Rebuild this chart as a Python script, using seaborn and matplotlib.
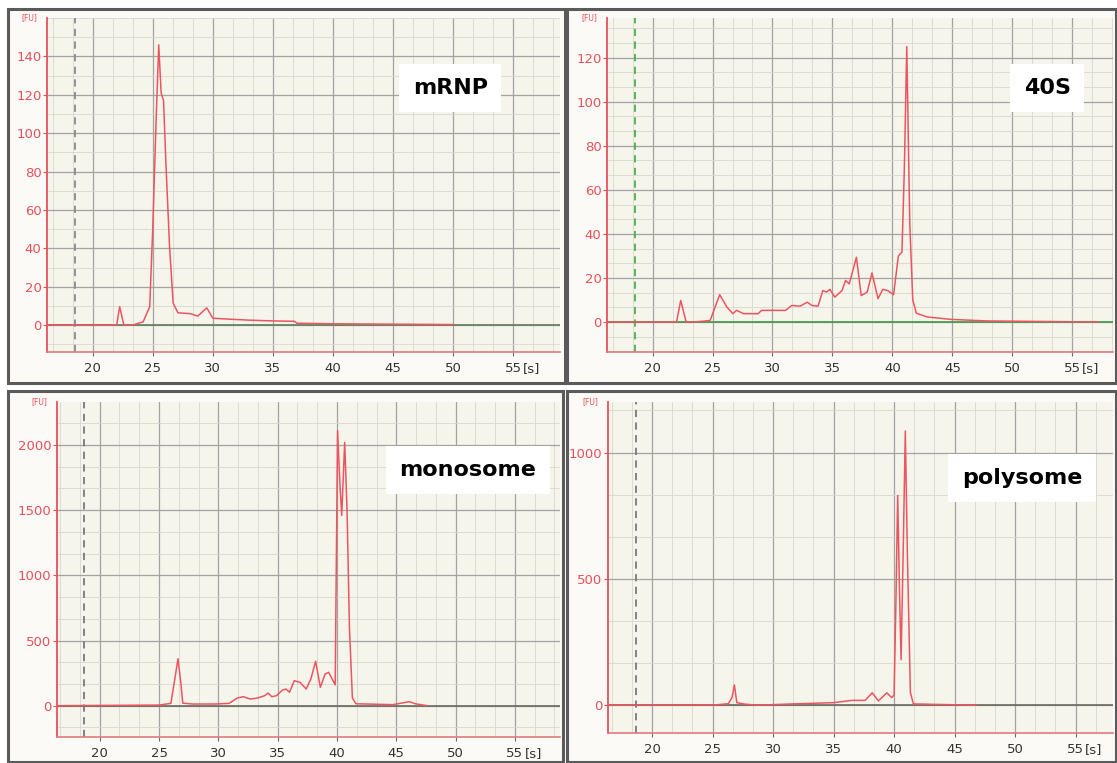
import numpy as np
import pandas as pd
import matplotlib
matplotlib.use("Agg")
import matplotlib.pyplot as plt
from matplotlib.patches import Rectangle
from matplotlib.ticker import MultipleLocator
import seaborn as sns

# electropherogram traces (time [s], fluorescence [FU])
t_mrnp = [16.2, 22.0, 22.25, 22.6, 23.3, 24.2, 24.75, 25.0, 25.3, 25.5, 25.7, 25.9, 26.1,
          26.4, 26.7, 27.1, 28.1, 28.75, 29.5, 30.0, 31.4, 33.0, 35.0, 36.8, 37.0, 40.0,
          45.0, 50.0]
v_mrnp = [0, 0, 9.6, 0, 0, 1.7, 9.6, 50, 110, 146, 121, 117, 84,
          41, 11.5, 6.4, 6, 4.7, 9, 3.6, 3.1, 2.6, 2.2, 2.0, 1.0, 0.7,
          0.5, 0.3]

t_40s = [16.2, 22.0, 22.35, 22.8, 23.5, 24.8, 25.6, 26.2, 26.7, 27.0, 27.6, 28.8, 29.1,
         30.3, 31.1, 31.6, 32.3, 32.9, 33.3, 33.8, 34.2, 34.5, 34.8, 35.2, 35.8, 36.1,
         36.4, 37.0, 37.4, 37.9, 38.3, 38.8, 39.2, 39.6, 40.1, 40.5, 40.8, 41.0, 41.2,
         41.45, 41.7, 42.0, 42.9, 44.9, 47.9, 57.2]
v_40s = [0, 0, 9.8, 0, 0, 0.7, 12.4, 6.8, 3.8, 5.3, 3.8, 3.8, 5.3,
         5.3, 5.3, 7.5, 7.2, 9, 7.5, 7.2, 14.3, 13.6, 14.8, 11.3, 14.3, 18.9,
         17.3, 29.4, 12, 13.6, 22.3, 10.6, 14.8, 14.3, 12.4, 30, 31.7, 70, 125,
         45, 10, 4, 2.3, 1.2, 0.5, 0]

t_mono = [16.4, 25.0, 26.0, 26.4, 26.6, 26.85, 27.0, 27.8, 29.7, 30.9, 31.6, 32.1, 32.7,
          33.3, 33.9, 34.2, 34.5, 34.9, 35.4, 35.7, 36.0, 36.4, 36.9, 37.4, 37.8, 38.2,
          38.6, 39.0, 39.3, 39.85, 40.05, 40.25, 40.4, 40.65, 40.85, 41.05, 41.3, 41.6,
          44.7, 46.1, 46.6, 47.6]
v_mono = [0, 5, 18, 244, 360, 167, 20, 13, 13, 18, 59, 69, 51,
          59, 77, 97, 69, 77, 120, 128, 103, 192, 179, 128, 205, 341,
          141, 244, 256, 160, 2110, 1700, 1460, 2020, 1500, 600, 60, 15,
          8, 31, 15, 0]

t_poly = [16.35, 25.2, 26.3, 26.6, 26.8, 27.0, 27.7, 28.75, 31.5, 35.0, 36.5, 37.6, 38.2,
          38.7, 39.4, 39.8, 40.0, 40.15, 40.3, 40.45, 40.58, 40.75, 40.93, 41.1, 41.35,
          41.6, 46.8]
v_poly = [0, 1, 6, 30, 80, 10, 4, 0, 5, 10, 19, 19, 49,
          17, 49, 30, 40, 400, 830, 450, 180, 600, 1085, 600, 50,
          5, 0]

labels = ["mRNP", "40S", "monosome", "polysome"]
x_ticks = [20, 25, 30, 35, 40, 45, 50, 55]
y_ticks = [[0, 20, 40, 60, 80, 100, 120, 140],
           [0, 20, 40, 60, 80, 100, 120],
           [0, 500, 1000, 1500, 2000],
           [0, 500, 1000]]

sns.set_style("white")
plt.rcParams["font.family"] = ["DejaVu Sans"]

W, H = 1117, 763
RED = "#e8505a"
TRACE = "#ec5560"

fig = plt.figure(figsize=(W / 100, H / 100), dpi=100)

# panel frames in pixels: x0, y0, x1, y1 (from top)
frames = [(8, 9, 565, 383), (567, 9, 1116, 383), (8, 391, 563, 762), (567, 391, 1116, 762)]
for x0, y0, x1, y1 in frames:
    fig.patches.append(Rectangle((x0 / W, 1 - y1 / H), (x1 - x0) / W, (y1 - y0) / H,
                                 transform=fig.transFigure, facecolor="#fbfaf6",
                                 edgecolor="#5a5a5a", lw=2.2, zorder=-1))

# axes boxes in pixels: left, top, right, bottom
boxes = [(47, 18, 560, 352), (607, 18, 1113, 352), (57, 402, 560, 737), (608, 402, 1113, 733)]
xlims = [(16.2, 58.9), (16.2, 58.4), (16.4, 58.8), (16.35, 58.1)]
ylims = [(-14, 160), (-13.6, 138), (-240, 2330), (-110, 1200)]
y_minor = [10, 20 / 3, 500 / 3, 500 / 3]
dash_x = [18.5, 18.5, 18.7, 18.7]
dash_col = ["#8a8a8a", "#4caf50", "#7a7a7a", "#7a7a7a"]
base_col = ["#5d7f5d", "#3f9a45", "#6a6a62", "#6a6a62"]
label_pos = [(0.786, 0.79), (0.87, 0.79), (0.817, 0.797), (0.82, 0.77)]
traces = [(t_mrnp, v_mrnp), (t_40s, v_40s), (t_mono, v_mono), (t_poly, v_poly)]

for i, (l, t, r, b) in enumerate(boxes):
    ax = fig.add_axes([l / W, 1 - b / H, (r - l) / W, (b - t) / H])
    ax.set_facecolor("#f6f5ec")

    ax.set_xlim(*xlims[i])
    ax.set_ylim(*ylims[i])
    ax.set_xticks(x_ticks)
    ax.set_yticks(y_ticks[i])
    ax.xaxis.set_minor_locator(MultipleLocator(5 / 3))
    ax.yaxis.set_minor_locator(MultipleLocator(y_minor[i]))
    ax.grid(which="major", color="#a3a3a0", lw=0.9)
    ax.grid(which="minor", color="#d8d8d0", lw=0.6)
    ax.set_axisbelow(True)

    ax.axvline(dash_x[i], color=dash_col[i], ls=(0, (4, 3)), lw=1.3, zorder=2)
    ax.axhline(0, color=base_col[i], lw=1.2, zorder=2)

    t_vals, v_vals = traces[i]
    df = pd.DataFrame({"time": t_vals, "fu": v_vals})
    sns.lineplot(data=df, x="time", y="fu", ax=ax, estimator=None, sort=False,
                 color=TRACE, lw=1.1, zorder=3)
    ax.set_xlabel("")
    ax.set_ylabel("")

    for side in ["top", "right"]:
        ax.spines[side].set_visible(False)
    ax.spines["left"].set_color(RED)
    ax.spines["left"].set_linewidth(1.3)
    ax.spines["bottom"].set_color("#e07a80")
    ax.spines["bottom"].set_linewidth(1.2)

    ax.tick_params(axis="y", which="major", colors=RED, labelsize=9.5, length=3, width=0.8,
                   left=True, pad=1)
    ax.tick_params(axis="x", which="major", colors="#6a6a6a", labelcolor="#333333",
                   labelsize=9.5, length=3, width=0.8, bottom=True, pad=4)
    ax.tick_params(which="minor", length=0)

    ax.text(-0.035, 1.0, "[FU]", transform=ax.transAxes, ha="center", va="center",
            fontsize=5.5, color=RED)
    ax.annotate("[s]", xy=(55, 0), xycoords=("data", "axes fraction"),
                xytext=(7, -7), textcoords="offset points", ha="left", va="top",
                fontsize=9.5, color="#333333")

    fx, fy = label_pos[i]
    ax.text(fx, fy, labels[i], transform=ax.transAxes, ha="center", va="center",
            fontsize=16, fontweight="bold", color="black", zorder=5,
            bbox=dict(facecolor="white", edgecolor="none", pad=10))

fig.savefig("out.png", dpi=100)
